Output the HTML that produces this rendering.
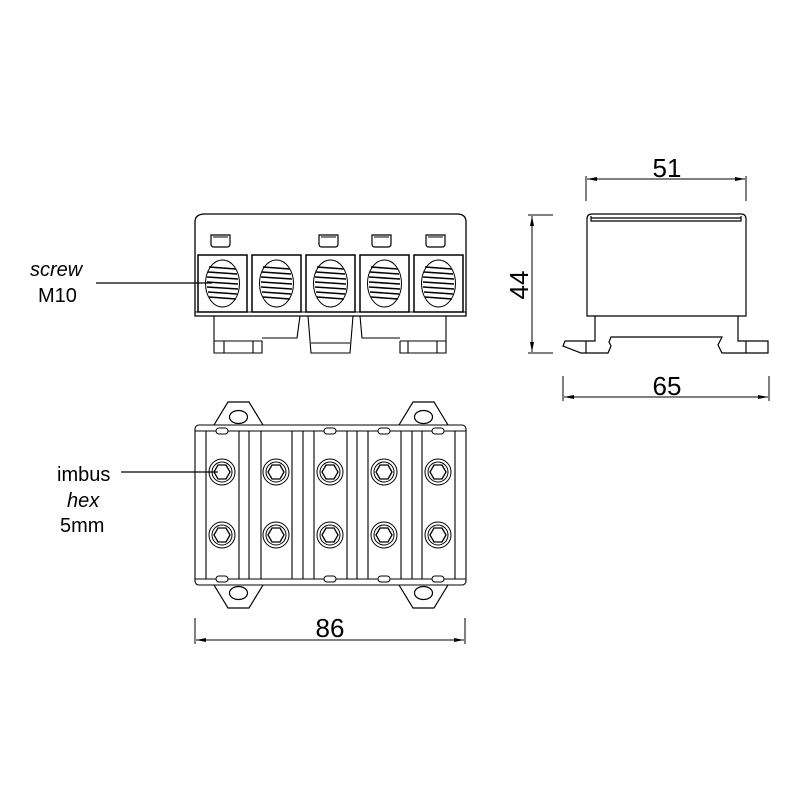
<!DOCTYPE html>
<html><head><style>html,body{margin:0;padding:0;background:#fff;overflow:hidden;width:800px;height:800px}svg{display:block}text{font-family:"Liberation Sans",Arial,sans-serif;fill:#000}</style></head>
<body>
<svg width="800" height="800" viewBox="0 0 800 800" xmlns="http://www.w3.org/2000/svg">
<defs>
<marker id="ar" viewBox="0 0 10 4" refX="10" refY="2" markerWidth="10" markerHeight="4" orient="auto-start-reverse" markerUnits="userSpaceOnUse"><path d="M0,0 L10,2 L0,4 z" fill="#000"/></marker>
<g id="scr">
<rect x="0" y="0" width="49" height="57" fill="none" stroke="#000" stroke-width="1.5"/>
<ellipse cx="24.5" cy="28.5" rx="17" ry="23.5" fill="none" stroke="#000" stroke-width="1"/>
<g stroke="#000" stroke-width="1.6"><line x1="11" y1="12" x2="38" y2="14"/><line x1="10" y1="17" x2="39" y2="19"/><line x1="9" y1="22" x2="40" y2="24"/><line x1="9" y1="27" x2="40" y2="29"/><line x1="9" y1="32" x2="40" y2="34"/><line x1="10" y1="37" x2="39" y2="39"/><line x1="11" y1="42" x2="38" y2="44"/></g>
</g>
<g id="tab"><path d="M0,0 h19 v9 q0,3 -3,3 h-13 q-3,0 -3,-3 z" fill="none" stroke="#000" stroke-width="1.2"/><line x1="2" y1="2" x2="17" y2="2" stroke="#000" stroke-width="1"/></g>
<g id="bolt"><circle r="13" fill="none" stroke="#000" stroke-width="1"/><circle r="10" fill="none" stroke="#000" stroke-width="1"/><polygon points="-8,0 -4,-7 4,-7 8,0 4,7 -4,7" fill="none" stroke="#000" stroke-width="1.3"/></g>
<g id="ear"><path d="M0,23 L14,0 L35,0 L49,23" fill="none" stroke="#000" stroke-width="1.2"/><ellipse cx="24.5" cy="15" rx="9" ry="6.5" fill="none" stroke="#000" stroke-width="1.2"/></g>
</defs>
<g fill="none" stroke="#000">
<path d="M195,316 L195,222 Q195,214 205,214 L457,214 Q466,214 466,222 L466,316 Z" stroke-width="1.3"/>
<line x1="195" y1="312" x2="466" y2="312" stroke-width="1"/>
<path d="M214,316 L214,353 L262,353 L262,341 L214,341 M262,338 L297,338 L300,316 M224,341 V353 M253,341 V353" stroke-width="1.1"/>
<path d="M308,316 L311,353 L350,353 L353,316 M311,343 L350,343" stroke-width="1.1"/>
<path d="M360,316 L362,338 L400,338 M400,341 L400,353 L446,353 L446,341 L400,341 M446,341 L446,316 M408,341 V353 M437,341 V353" stroke-width="1.1"/>
</g>
<use href="#tab" x="211" y="235"/><use href="#tab" x="319" y="235"/><use href="#tab" x="372" y="235"/><use href="#tab" x="426" y="235"/>
<use href="#scr" x="198" y="255"/><use href="#scr" x="252" y="255"/><use href="#scr" x="306" y="255"/><use href="#scr" x="360" y="255"/><use href="#scr" x="414" y="255"/>
<line x1="96" y1="283" x2="212" y2="283" stroke="#000" stroke-width="1.2"/>
<text x="30" y="276" font-size="20" font-style="italic">screw</text>
<text x="38" y="302" font-size="20">M10</text>
<g fill="none" stroke="#000" stroke-width="1.2">
<path d="M587,316 L587,219 Q587,214 592,214 L741,214 Q746,214 746,219 L746,316 Z"/>
<path d="M591,216 L591,221 L741,221 L741,216"/>
<line x1="591" y1="218" x2="741" y2="218"/>
<path d="M595,316 L595,341 L565,341 L563,346 L581,353 L608,353 L611,346 L609,342 L611,337 L722,337 L718,345 L722,353 L768,353 L768,341 L738,341 L738,316"/>
<line x1="586" y1="341" x2="586" y2="353"/><line x1="746" y1="341" x2="746" y2="353"/>
</g>
<g stroke="#000" stroke-width="1">
<line x1="586" y1="176" x2="586" y2="201"/><line x1="746" y1="176" x2="746" y2="201"/>
<line x1="587" y1="179" x2="745" y2="179" marker-start="url(#ar)" marker-end="url(#ar)"/>
<line x1="528" y1="215" x2="553" y2="215"/><line x1="528" y1="353" x2="553" y2="353"/>
<line x1="532" y1="216" x2="532" y2="352" marker-start="url(#ar)" marker-end="url(#ar)"/>
<line x1="563" y1="376" x2="563" y2="401"/><line x1="769" y1="376" x2="769" y2="401"/>
<line x1="564" y1="397" x2="768" y2="397" marker-start="url(#ar)" marker-end="url(#ar)"/>
<line x1="195" y1="618" x2="195" y2="644"/><line x1="465" y1="618" x2="465" y2="644"/>
<line x1="196" y1="640" x2="464" y2="640" marker-start="url(#ar)" marker-end="url(#ar)"/>
</g>
<text x="667" y="177" font-size="26" text-anchor="middle">51</text>
<text x="0" y="0" font-size="26" text-anchor="middle" transform="translate(528,285) rotate(-90)">44</text>
<text x="667" y="395" font-size="26" text-anchor="middle">65</text>
<text x="330" y="637" font-size="26" text-anchor="middle">86</text>
<use href="#ear" x="214" y="402"/><use href="#ear" x="399" y="402"/>
<g transform="translate(0,1187) scale(1,-1)"><use href="#ear" x="214" y="579"/><use href="#ear" x="399" y="579"/></g>
<g fill="none" stroke="#000" stroke-width="1.1">
<rect x="195" y="425" width="271" height="160" rx="4"/>
<line x1="195" y1="431" x2="466" y2="431"/><line x1="195" y1="579" x2="466" y2="579"/>
<path d="M206,431V579 M239,431V579 M249,431V579 M261,431V579 M292,431V579 M303,431V579 M314,431V579 M347,431V579 M357,431V579 M368,431V579 M401,431V579 M412,431V579 M422,431V579 M455,431V579"/>
</g>
<g fill="#fff" stroke="#000" stroke-width="1">
<rect x="216" y="428" width="12" height="6" rx="3"/><rect x="324" y="428" width="12" height="6" rx="3"/><rect x="378" y="428" width="12" height="6" rx="3"/><rect x="432" y="428" width="12" height="6" rx="3"/>
<rect x="216" y="576" width="12" height="6" rx="3"/><rect x="324" y="576" width="12" height="6" rx="3"/><rect x="378" y="576" width="12" height="6" rx="3"/><rect x="432" y="576" width="12" height="6" rx="3"/>
</g>
<use href="#bolt" x="222" y="472"/><use href="#bolt" x="276" y="472"/><use href="#bolt" x="330" y="472"/><use href="#bolt" x="384" y="472"/><use href="#bolt" x="438" y="472"/>
<use href="#bolt" x="222" y="535"/><use href="#bolt" x="276" y="535"/><use href="#bolt" x="330" y="535"/><use href="#bolt" x="384" y="535"/><use href="#bolt" x="438" y="535"/>
<line x1="121" y1="472" x2="218" y2="472" stroke="#000" stroke-width="1.2"/>
<text x="57" y="481" font-size="20">imbus</text>
<text x="67" y="507" font-size="20" font-style="italic">hex</text>
<text x="60" y="532" font-size="20">5mm</text>
</svg>
</body></html>
